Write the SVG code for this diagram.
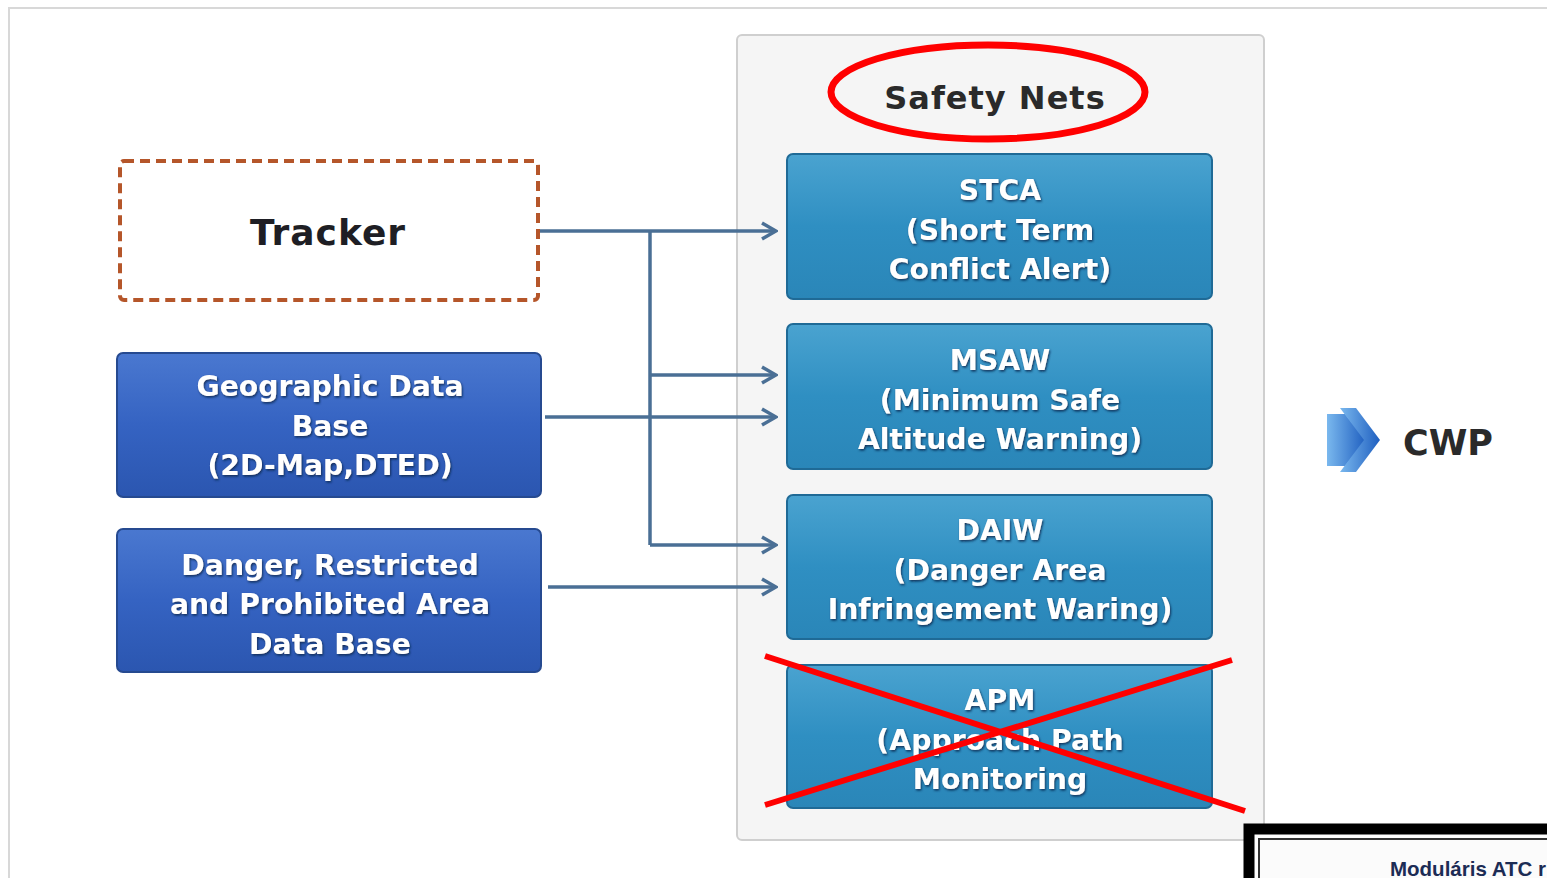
<svg xmlns="http://www.w3.org/2000/svg" width="1547" height="878" viewBox="0 0 1547 878">
<defs>
  <linearGradient id="gBlue" x1="0" y1="0" x2="0" y2="1">
    <stop offset="0" stop-color="#4a78d0"/>
    <stop offset="0.5" stop-color="#3563c2"/>
    <stop offset="1" stop-color="#2b56b0"/>
  </linearGradient>
  <linearGradient id="gTeal" x1="0" y1="0" x2="0" y2="1">
    <stop offset="0" stop-color="#4aa3d0"/>
    <stop offset="0.5" stop-color="#2f8fc2"/>
    <stop offset="1" stop-color="#2a86b8"/>
  </linearGradient>
  <linearGradient id="gIcon" x1="0" y1="0" x2="1" y2="0">
    <stop offset="0" stop-color="#7ab8ee"/>
    <stop offset="1" stop-color="#1f5fc0"/>
  </linearGradient>
  <filter id="ts" x="-10%" y="-20%" width="120%" height="140%">
    <feDropShadow dx="1" dy="1.5" stdDeviation="1" flood-color="#0a2a50" flood-opacity="0.9"/>
  </filter>
  <marker id="arr" viewBox="0 0 20 20" refX="18" refY="10" markerWidth="20" markerHeight="20" markerUnits="userSpaceOnUse" orient="auto">
    <path d="M4 2 L18 10 L4 18" fill="none" stroke="#4a6f95" stroke-width="3.5" stroke-linejoin="miter"/>
  </marker>
  <style>
    .bluebox{fill:url(#gBlue);stroke:#264a90;stroke-width:2}
    .tealbox{fill:url(#gTeal);stroke:#1f6a96;stroke-width:2}
    .wt{font-family:"DejaVu Sans",sans-serif;font-weight:bold;font-size:28.3px;fill:#ffffff;text-anchor:middle;filter:url(#ts)}
    .conn{fill:none;stroke:#4a6f95;stroke-width:3.5}
    .red{stroke:#ff0000;stroke-width:6;fill:none}
  </style>
</defs>
<rect x="0" y="0" width="1547" height="878" fill="#ffffff"/>
<rect x="9" y="8" width="1560" height="900" fill="#ffffff" stroke="#d8d8d8" stroke-width="2"/>

<g id="safety-nets-panel">
  <rect x="737" y="35" width="527" height="805" rx="5" fill="#f5f5f5" stroke="#cfcfcf" stroke-width="2"/>
  <ellipse cx="988" cy="92" rx="157" ry="47" fill="none" stroke="#ff0000" stroke-width="7"/>
  <text x="995" y="109" font-family="DejaVu Sans, sans-serif" font-weight="bold" font-size="32" fill="#2a2a2a" text-anchor="middle" letter-spacing="1">Safety Nets</text>
</g>

<g id="connectors">
  <path class="conn" d="M538 231 H776" marker-end="url(#arr)"/>
  <path class="conn" d="M650 231 V545"/>
  <path class="conn" d="M650 375 H776" marker-end="url(#arr)"/>
  <path class="conn" d="M650 545 H776" marker-end="url(#arr)"/>
  <path class="conn" d="M545 417 H776" marker-end="url(#arr)"/>
  <path class="conn" d="M548 587 H776" marker-end="url(#arr)"/>
</g>

<g id="tracker">
  <rect x="120" y="161" width="418" height="139" rx="4" fill="#ffffff" stroke="#b5562a" stroke-width="4" stroke-dasharray="10 6"/>
  <text x="328" y="245" font-family="DejaVu Sans, sans-serif" font-weight="bold" font-size="36" fill="#1e1e24" text-anchor="middle" letter-spacing="1">Tracker</text>
</g>

<g id="geo-db">
  <rect class="bluebox" x="117" y="353" width="424" height="144" rx="6"/>
  <text class="wt" x="330" y="396">Geographic Data</text>
  <text class="wt" x="330" y="436">Base</text>
  <text class="wt" x="330" y="475">(2D-Map,DTED)</text>
</g>

<g id="danger-db">
  <rect class="bluebox" x="117" y="529" width="424" height="143" rx="6"/>
  <text class="wt" x="330" y="575">Danger, Restricted</text>
  <text class="wt" x="330" y="614">and Prohibited Area</text>
  <text class="wt" x="330" y="654">Data Base</text>
</g>

<g id="stca">
  <rect class="tealbox" x="787" y="154" width="425" height="145" rx="6"/>
  <text class="wt" x="1000" y="200">STCA</text>
  <text class="wt" x="1000" y="240">(Short Term</text>
  <text class="wt" x="1000" y="279">Conflict Alert)</text>
</g>

<g id="msaw">
  <rect class="tealbox" x="787" y="324" width="425" height="145" rx="6"/>
  <text class="wt" x="1000" y="370">MSAW</text>
  <text class="wt" x="1000" y="410">(Minimum Safe</text>
  <text class="wt" x="1000" y="449">Altitude Warning)</text>
</g>

<g id="daiw">
  <rect class="tealbox" x="787" y="495" width="425" height="144" rx="6"/>
  <text class="wt" x="1000" y="540">DAIW</text>
  <text class="wt" x="1000" y="580">(Danger Area</text>
  <text class="wt" x="1000" y="619">Infringement Waring)</text>
</g>

<g id="apm">
  <rect class="tealbox" x="787" y="665" width="425" height="143" rx="6"/>
  <text class="wt" x="1000" y="710">APM</text>
  <text class="wt" x="1000" y="750">(Approach Path</text>
  <text class="wt" x="1000" y="789">Monitoring</text>
  <line class="red" x1="765" y1="656" x2="1245" y2="811"/>
  <line class="red" x1="765" y1="805" x2="1232" y2="660"/>
</g>

<g id="cwp">
  <polygon points="1327,414 1345,414 1366,440 1345,466 1327,466" fill="url(#gIcon)"/>
  <polygon points="1340,408 1356,408 1380,440 1356,472 1340,472 1364,440" fill="url(#gIcon)"/>
  <text x="1403" y="455" font-family="DejaVu Sans, sans-serif" font-weight="bold" font-size="35" fill="#2a2a2a">CWP</text>
</g>

<g id="inset-frame">
  <rect x="1249" y="829" width="320" height="80" fill="#ffffff" stroke="#000000" stroke-width="11"/>
  <rect x="1259" y="839" width="300" height="60" fill="#fbfbfb" stroke="#333333" stroke-width="2"/>
  <text x="1390" y="876" font-family="Liberation Sans, Arial, sans-serif" font-weight="bold" font-size="20.5" fill="#1c2c55">Moduláris ATC r</text>
</g>
</svg>
